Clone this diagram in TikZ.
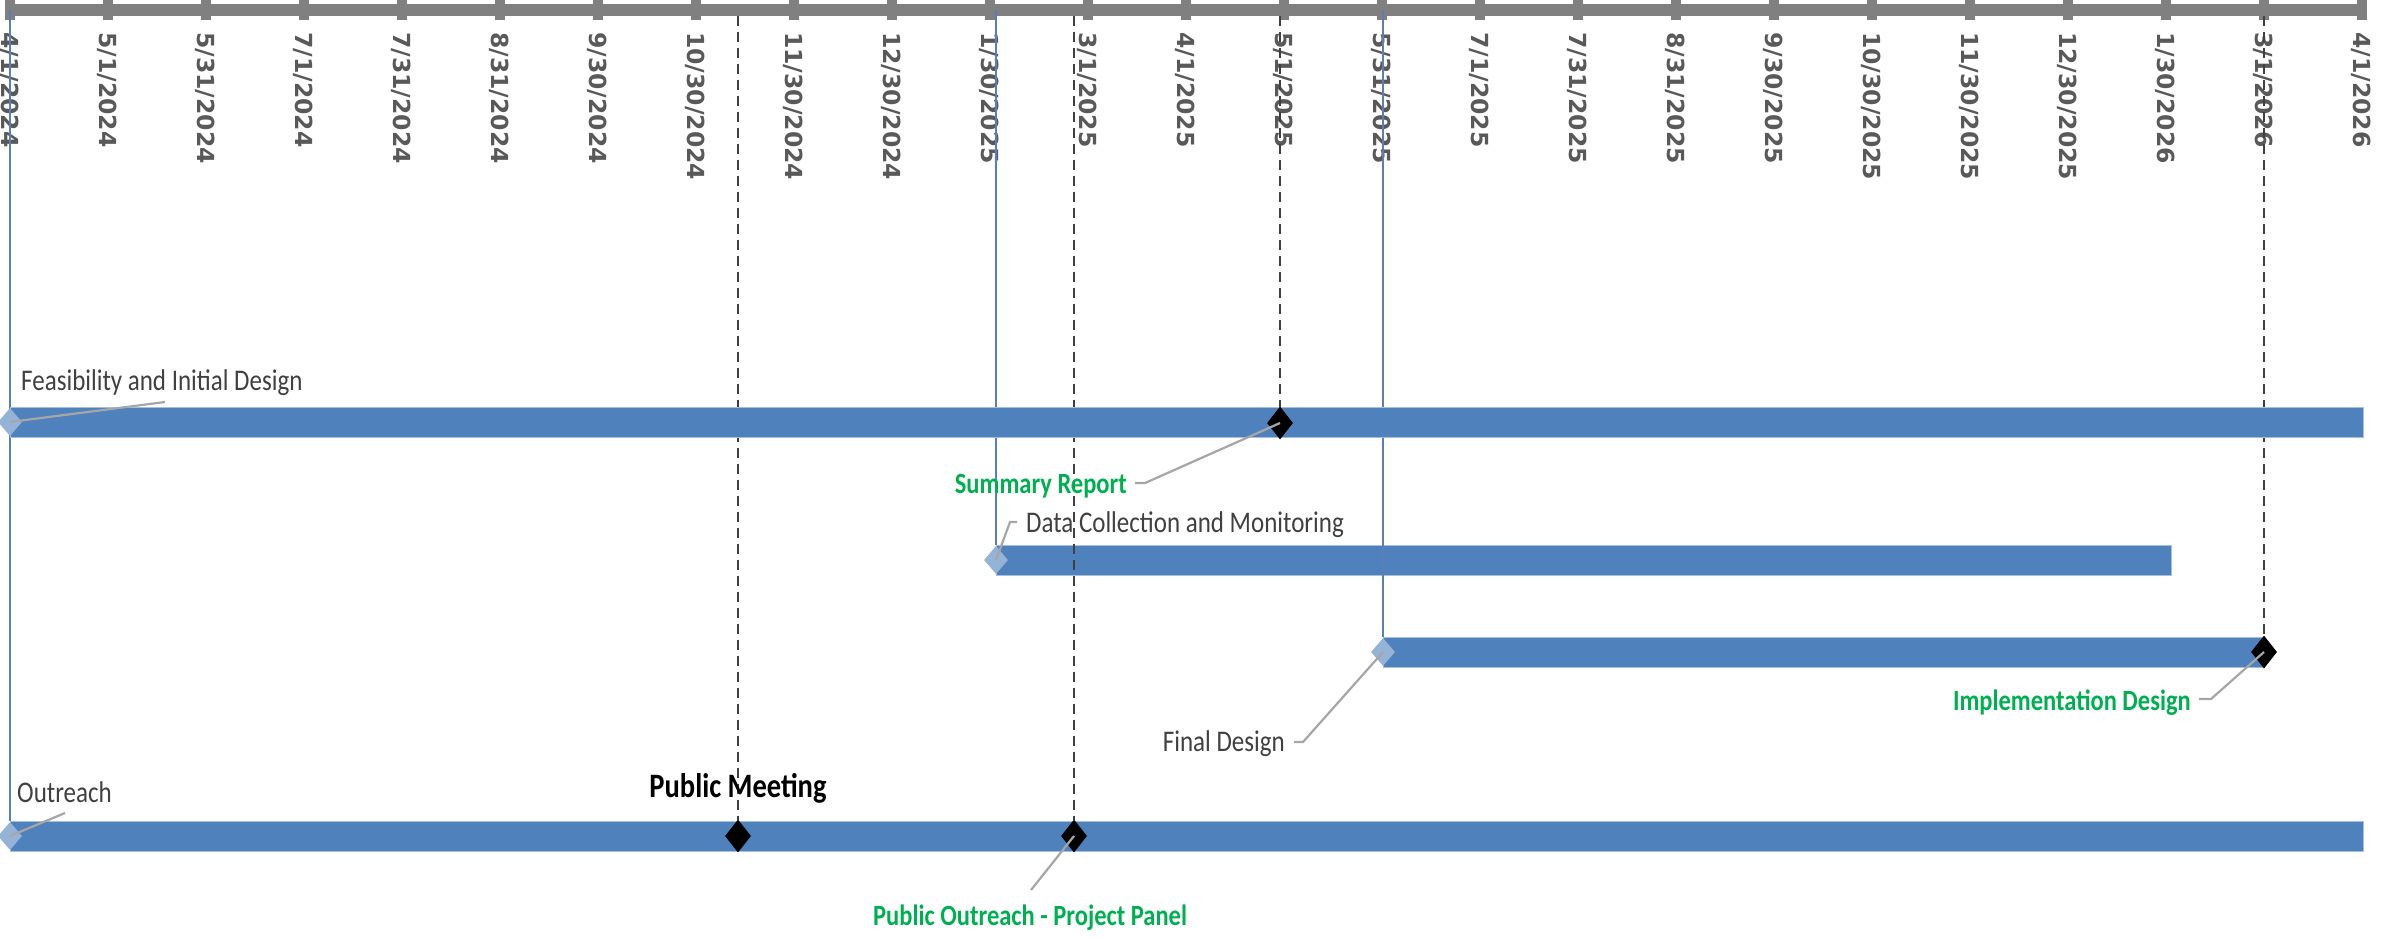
\documentclass[tikz,border=0pt]{standalone}
\usepackage{fontspec}
\setmainfont{Carlito}
\newfontfamily\tickfont{DejaVu Sans}
\usetikzlibrary{shapes.geometric}
\definecolor{axisgray}{HTML}{808080}
\definecolor{ticktext}{HTML}{595959}
\definecolor{barblue}{HTML}{4F81BD}
\definecolor{baredge}{HTML}{A7BFDE}
\definecolor{startdia}{HTML}{95B3D7}
\definecolor{lblgray}{HTML}{404040}
\definecolor{mgreen}{HTML}{00B050}
\definecolor{leadgray}{HTML}{A6A6A6}
\definecolor{dashgray}{HTML}{404040}
\definecolor{startline}{HTML}{5B7FB5}
\begin{document}
\begin{tikzpicture}[x=1pt,y=-1pt,
  axisbar/.style={rectangle, fill=axisgray, draw=none, inner sep=0pt, minimum height=12pt},
  tickmark/.style={rectangle, fill=axisgray, draw=none, inner sep=0pt, minimum width=10pt, minimum height=20pt},
  ticklabel/.style={rotate=-90, anchor=west, inner sep=0pt, text=ticktext, text height=17pt, text depth=0pt,
    font=\tickfont\bfseries\fontsize{23.5}{24}\selectfont},
  taskbar/.style={rectangle, fill=barblue, draw=baredge, line width=1pt, inner sep=0pt, minimum height=30pt, anchor=west},
  startdiamond/.style={diamond, fill=startdia, draw=none, inner sep=0pt, minimum width=24pt, minimum height=28pt},
  milestone/.style={diamond, fill=black, draw=none, inner sep=0pt, minimum width=26pt, minimum height=33pt},
  startln/.style={draw=startline, line width=1.2pt},
  dashln/.style={draw=dashgray, line width=1.8pt, dash pattern=on 10pt off 6pt},
  leader/.style={draw=leadgray, line width=2.2pt},
  tasklbl/.style={inner sep=0pt, text=lblgray, font=\fontsize{25}{30}\selectfont},
  mslbl/.style={inner sep=0pt, text=mgreen, font=\bfseries\fontsize{24.5}{30}\selectfont},
  bigms/.style={inner sep=0pt, text=black, font=\bfseries\fontsize{28.5}{34}\selectfont}
]
\useasboundingbox (0,0) rectangle (2381,938);

% time axis
\node[axisbar, minimum width=2362pt, anchor=west] (axis) at (5,10) {};
\foreach \lab [count=\i from 0] in {4/1/2024,5/1/2024,5/31/2024,7/1/2024,7/31/2024,8/31/2024,9/30/2024,10/30/2024,11/30/2024,12/30/2024,1/30/2025,3/1/2025,4/1/2025,5/1/2025,5/31/2025,7/1/2025,7/31/2025,8/31/2025,9/30/2025,10/30/2025,11/30/2025,12/30/2025,1/30/2026,3/1/2026,4/1/2026}{
  \node[tickmark] (t\i) at ({10+98.0*\i},10) {};
  \node[ticklabel] (l\i) at ({10+98.0*\i},32) {\lab};
}

% data collection bar (drawn below the guide lines)
\node[taskbar, minimum width=1175pt] (bdata) at (996,560) {};

% positions of other bars and milestones
\coordinate (pfeas) at (10,422);
\coordinate (pfinal) at (1383,652);
\coordinate (poutr) at (10,836);

% start guide lines
\draw[startln] (10,10) -- (10,821);
\draw[startln] (bdata.north west |- axis.center) -- (bdata.north west);
\draw[startln] (1383,10) -- (1383,637);

% milestone dashed guide lines
\coordinate (xpm) at (738,836);
\coordinate (xpo) at (1074,836);
\coordinate (xsum) at (1280,423);
\coordinate (ximp) at (2264,652);
\draw[dashln] (xpm |- axis.south) -- ([yshift=16.5pt]xpm);
\draw[dashln] (xpo |- axis.south) -- ([yshift=16.5pt]xpo);
\draw[dashln] (xsum |- axis.south) -- ([yshift=16.5pt]xsum);
\draw[dashln] (ximp |- axis.south) -- ([yshift=16.5pt]ximp);

% task bars
\node[taskbar, minimum width=2353pt] (bfeas) at (pfeas) {};
\node[taskbar, minimum width=881pt] (bfinal) at (pfinal) {};
\node[taskbar, minimum width=2353pt] (boutr) at (poutr) {};

% start diamonds
\node[startdiamond] (dfeas) at (pfeas) {};
\node[startdiamond] (ddata) at (996,560) {};
\node[startdiamond] (dfinal) at (pfinal) {};
\node[startdiamond] (doutr) at (poutr) {};

% milestones
\node[milestone] (msum) at (xsum) {};
\node[milestone] (mimp) at (ximp) {};
\node[milestone] (mpm) at (xpm) {};
\node[milestone] (mpo) at (xpo) {};

% leader lines
\coordinate (cfeas) at (165,402);
\coordinate (csum1) at (1145,483);
\coordinate (csum2) at (1135,483);
\coordinate (cdata1) at (1010,522);
\coordinate (cdata2) at (1017,522);
\coordinate (cfin1) at (1303,742);
\coordinate (cfin2) at (1294,742);
\coordinate (cimp1) at (2211,699);
\coordinate (cimp2) at (2199,699);
\coordinate (coutr) at (65,813);
\coordinate (cpo) at (1031,890);
\draw[leader] (dfeas.center) -- (cfeas);
\draw[leader] (msum.center) -- (csum1) -- (csum2);
\draw[leader] (ddata.center) -- (cdata1) -- (cdata2);
\draw[leader] (dfinal.center) -- (cfin1) -- (cfin2);
\draw[leader] (mimp.center) -- (cimp1) -- (cimp2);
\draw[leader] (doutr.center) -- (coutr);
\draw[leader] (mpo.center) -- (cpo);

% labels
\node[tasklbl, anchor=base west] (tfeas) at (21,390) {\scalebox{1}[1.2]{Feasibility and Initial Design}};
\node[mslbl, anchor=base east] (tsum) at (1127,493) {\scalebox{1}[1.2]{Summary Report}};
\node[tasklbl, anchor=base west] (tdata) at (1026,532) {\scalebox{1}[1.2]{Data Collection and Monitoring}};
\node[mslbl, anchor=base east] (timp) at (2191,710) {\scalebox{1}[1.2]{Implementation Design}};
\node[tasklbl, anchor=base east] (tfin) at (1285,751) {\scalebox{1}[1.2]{Final Design}};
\node[tasklbl, anchor=base west] (toutr) at (17,802) {\scalebox{1}[1.2]{Outreach}};
\node[bigms, anchor=base] (tpm) at (738,797) {\scalebox{1}[1.2]{Public Meeting}};
\node[mslbl, anchor=base west] (tpo) at (873,925) {\scalebox{1}[1.2]{Public Outreach - Project Panel}};
\end{tikzpicture}
\end{document}
